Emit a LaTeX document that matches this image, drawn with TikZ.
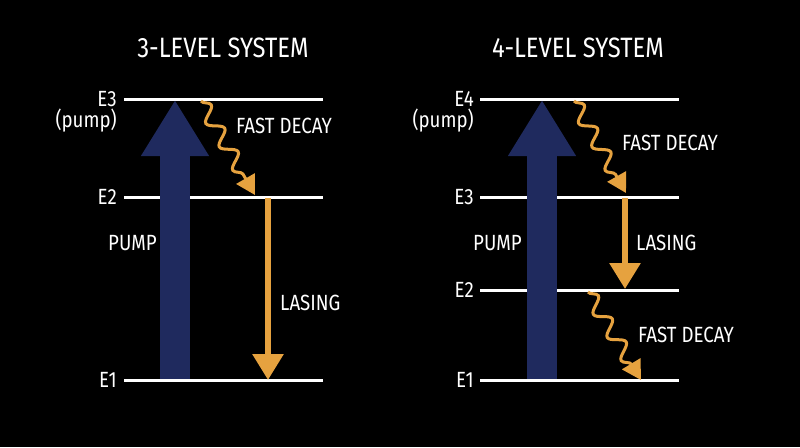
\documentclass[tikz,border=0pt]{standalone}
\usepackage{fontspec}
\setmainfont{Fira Sans}[FakeStretch=0.85]
\usetikzlibrary{arrows.meta,decorations.pathmorphing}
\definecolor{pumpblue}{HTML}{1F2A5E}
\definecolor{decayorange}{HTML}{E6A23F}
\tikzset{
level/.style={draw=white, line width=3pt},
lbl/.style={text=white, font=\fontsize{22}{24}\selectfont, inner sep=0pt},
title/.style={text=white, font=\fontsize{28}{30}\selectfont, inner sep=0pt},
pumparrow/.style={draw=pumpblue, line width=30pt, -{Triangle[width=64pt,length=56pt]}},
lasing/.style={draw=decayorange, line width=6pt, -{Triangle[width=30pt,length=26pt]}},
decay/.style={draw=decayorange, line width=3pt, decorate,
  decoration={snake, segment length=27pt, amplitude=7pt, post length=16pt},
  -{Triangle[width=21pt,length=19pt]}}
}
\begin{document}
\begin{tikzpicture}[x=1pt,y=-1pt]
\fill[black] (0,0) rectangle (800,447);
\useasboundingbox (0,0) rectangle (800,447);

% 3-level system
\node[title] (tthree) at (223,48) {3-LEVEL SYSTEM};

\coordinate (a3l) at (124,99);  \coordinate (a3r) at (323,99);
\coordinate (a2l) at (124,197); \coordinate (a2r) at (323,197);
\coordinate (a1l) at (124,380); \coordinate (a1r) at (323,380);
\draw[level] (a3l) -- (a3r);
\draw[level] (a2l) -- (a2r);
\draw[level] (a1l) -- (a1r);

\node[lbl, anchor=east] (ae3) at (117,99) {E3};
\node[lbl, anchor=east] (apump) at (117,121) {(pump)};
\node[lbl, anchor=east] (ae2) at (117,197) {E2};
\node[lbl, anchor=east] (ae1) at (117,380) {E1};

\coordinate (apb) at (175,378.5);
\coordinate (apt) at (175,100);
\draw[pumparrow] (apb) -- (apt);
\node[lbl, anchor=west] (aplbl) at (108,243) {PUMP};

\coordinate (ads) at (201,101);
\coordinate (ade) at (255,195);
\draw[decay] (ads) -- (ade);
\node[lbl, anchor=west] (adlbl) at (236,126) {FAST DECAY};

\coordinate (als) at (268,198);
\coordinate (ale) at (268,380);
\draw[lasing] (als) -- (ale);
\node[lbl, anchor=west] (allbl) at (280,303) {LASING};

% 4-level system
\node[title] (tfour) at (578,48) {4-LEVEL SYSTEM};

\coordinate (b4l) at (480,99);  \coordinate (b4r) at (679,99);
\coordinate (b3l) at (480,197); \coordinate (b3r) at (679,197);
\coordinate (b2l) at (480,290); \coordinate (b2r) at (679,290);
\coordinate (b1l) at (480,380); \coordinate (b1r) at (679,380);
\draw[level] (b4l) -- (b4r);
\draw[level] (b3l) -- (b3r);
\draw[level] (b2l) -- (b2r);
\draw[level] (b1l) -- (b1r);

\node[lbl, anchor=east] (be4) at (474,99) {E4};
\node[lbl, anchor=east] (bpump) at (474,121) {(pump)};
\node[lbl, anchor=east] (be3) at (474,197) {E3};
\node[lbl, anchor=east] (be2) at (474,290) {E2};
\node[lbl, anchor=east] (be1) at (474,380) {E1};

\coordinate (bpb) at (542,378.5);
\coordinate (bpt) at (542,100);
\draw[pumparrow] (bpb) -- (bpt);
\node[lbl, anchor=west] (bplbl) at (473,243) {PUMP};

\coordinate (bds) at (574,101);
\coordinate (bde) at (626,193);
\draw[decay] (bds) -- (bde);
\node[lbl, anchor=west] (bdlbl) at (622,143) {FAST DECAY};

\coordinate (bls) at (625,198);
\coordinate (ble) at (625,289);
\draw[lasing] (bls) -- (ble);
\node[lbl, anchor=west] (bllbl) at (636,243) {LASING};

\coordinate (bfs) at (588,292);
\coordinate (bfe) at (641,380);
\draw[decay] (bfs) -- (bfe);
\node[lbl, anchor=west] (bflbl) at (638,335) {FAST DECAY};
\end{tikzpicture}
\end{document}
